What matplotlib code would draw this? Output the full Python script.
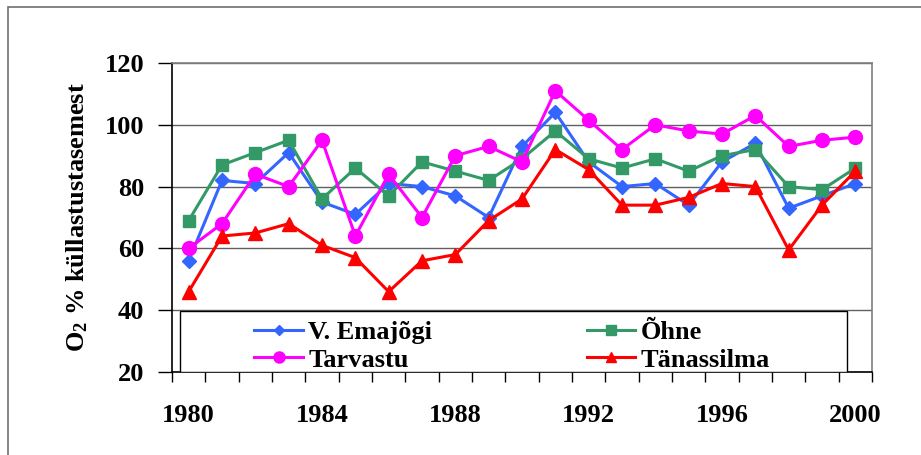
import matplotlib
matplotlib.use("Agg")
import matplotlib.pyplot as plt
from matplotlib.patches import Rectangle
from matplotlib.ticker import FixedLocator

years = list(range(1980, 2001))
emajogi = [56, 82, 81, 91, 75, 71, 81, 80, 77, 70, 93, 104, 88, 80, 81, 74, 88, 94, 73, 77, 81]
ohne = [69, 87, 91, 95, 76, 86, 77, 88, 85, 82, 89, 98, 89, 86, 89, 85, 90, 92, 80, 79, 86]
tarvastu = [60, 68, 84, 80, 95, 64, 84, 70, 90, 93, 88, 111, 101.5, 92, 100, 98, 97, 103, 93, 95, 96]
tanassilma = [46, 64, 65, 68, 61, 57, 46, 56, 58, 69, 76, 92, 85.5, 74, 74, 76.5, 81, 80, 59.5, 74, 85]
year_labels = [1980, 1984, 1988, 1992, 1996, 2000]
y_ticks = [20, 40, 60, 80, 100, 120]

plt.rcParams["font.family"] = ["Liberation Serif", "DejaVu Serif"]
plt.rcParams["font.weight"] = "bold"
plt.rcParams["mathtext.fontset"] = "custom"
plt.rcParams["mathtext.rm"] = "Liberation Serif:bold"
plt.rcParams["mathtext.bf"] = "Liberation Serif:bold"
plt.rcParams["mathtext.it"] = "Liberation Serif:bold"

W, H = 921, 455
fig = plt.figure(figsize=(W / 100, H / 100), dpi=100)
ax = fig.add_axes([172 / W, 1 - 372 / H, 700 / W, 309 / H])

# outer chart border
fig.patches.append(Rectangle((8 / W, -0.1), 1.2, 1 - 7 / H + 0.1, transform=fig.transFigure,
                             fill=False, edgecolor="#707070", lw=1.2))

lw = 2.2
h1, = ax.plot(years, emajogi, color="#3366FF", lw=lw, marker="D", ms=7, label="V. Emajõgi", zorder=3)
h2, = ax.plot(years, ohne, color="#339966", lw=lw, marker="s", ms=9, label="Õhne", zorder=3)
h3, = ax.plot(years, tarvastu, color="#FF00FF", lw=lw, marker="o", ms=10, label="Tarvastu", zorder=3)
h4, = ax.plot(years, tanassilma, color="#FF0000", lw=lw, marker="^", ms=9.5, label="Tänassilma", zorder=3)

ax.set_xlim(1979.5, 2000.5)
ax.set_ylim(20, 120)
ax.set_yticks(y_ticks)
ax.yaxis.grid(True, color="#606060", lw=1.0)
ax.set_axisbelow(True)
ax.tick_params(axis="y", direction="out", length=10, width=1, pad=10, labelsize=19)

ax.xaxis.set_major_locator(FixedLocator([1979.5 + k for k in range(22)]))
ax.xaxis.set_minor_locator(FixedLocator(year_labels))
ax.tick_params(axis="x", which="major", direction="out", length=7, width=1, labelbottom=False)
ax.tick_params(axis="x", which="minor", length=0, pad=23, labelsize=19)
ax.set_xticklabels([str(y) for y in year_labels], minor=True)

for side in ["top", "right"]:
    ax.spines[side].set_color("#808080")
    ax.spines[side].set_linewidth(1.2)
for side in ["left", "bottom"]:
    ax.spines[side].set_color("black")
    ax.spines[side].set_linewidth(1.2)

# legend box
x0 = (180 - 172) / 700
x1 = (847 - 172) / 700
y1 = (372 - 310.5) / 309
ax.add_patch(Rectangle((x0, 0), x1 - x0, y1, transform=ax.transAxes, facecolor="white",
                       edgecolor="black", lw=1.0, zorder=4))
ax.legend([h1, h3, h2, h4], ["V. Emajõgi", "Tarvastu", "Õhne", "Tänassilma"],
          loc="center", bbox_to_anchor=(x0 - 0.002, -5 / 309, x1 - x0, y1), ncol=2, frameon=False,
          fontsize=19, handlelength=1.85, handletextpad=0.2, columnspacing=5.85,
          labelspacing=0.15, borderpad=0.0, markerscale=0.8).set_zorder(5)

fig.text(77 / W, 1 - 217.5 / H, "O$_2$ % küllastustasemest", rotation=90,
         ha="center", va="center", fontsize=19, fontweight="bold")

fig.savefig("out.png", dpi=100)
